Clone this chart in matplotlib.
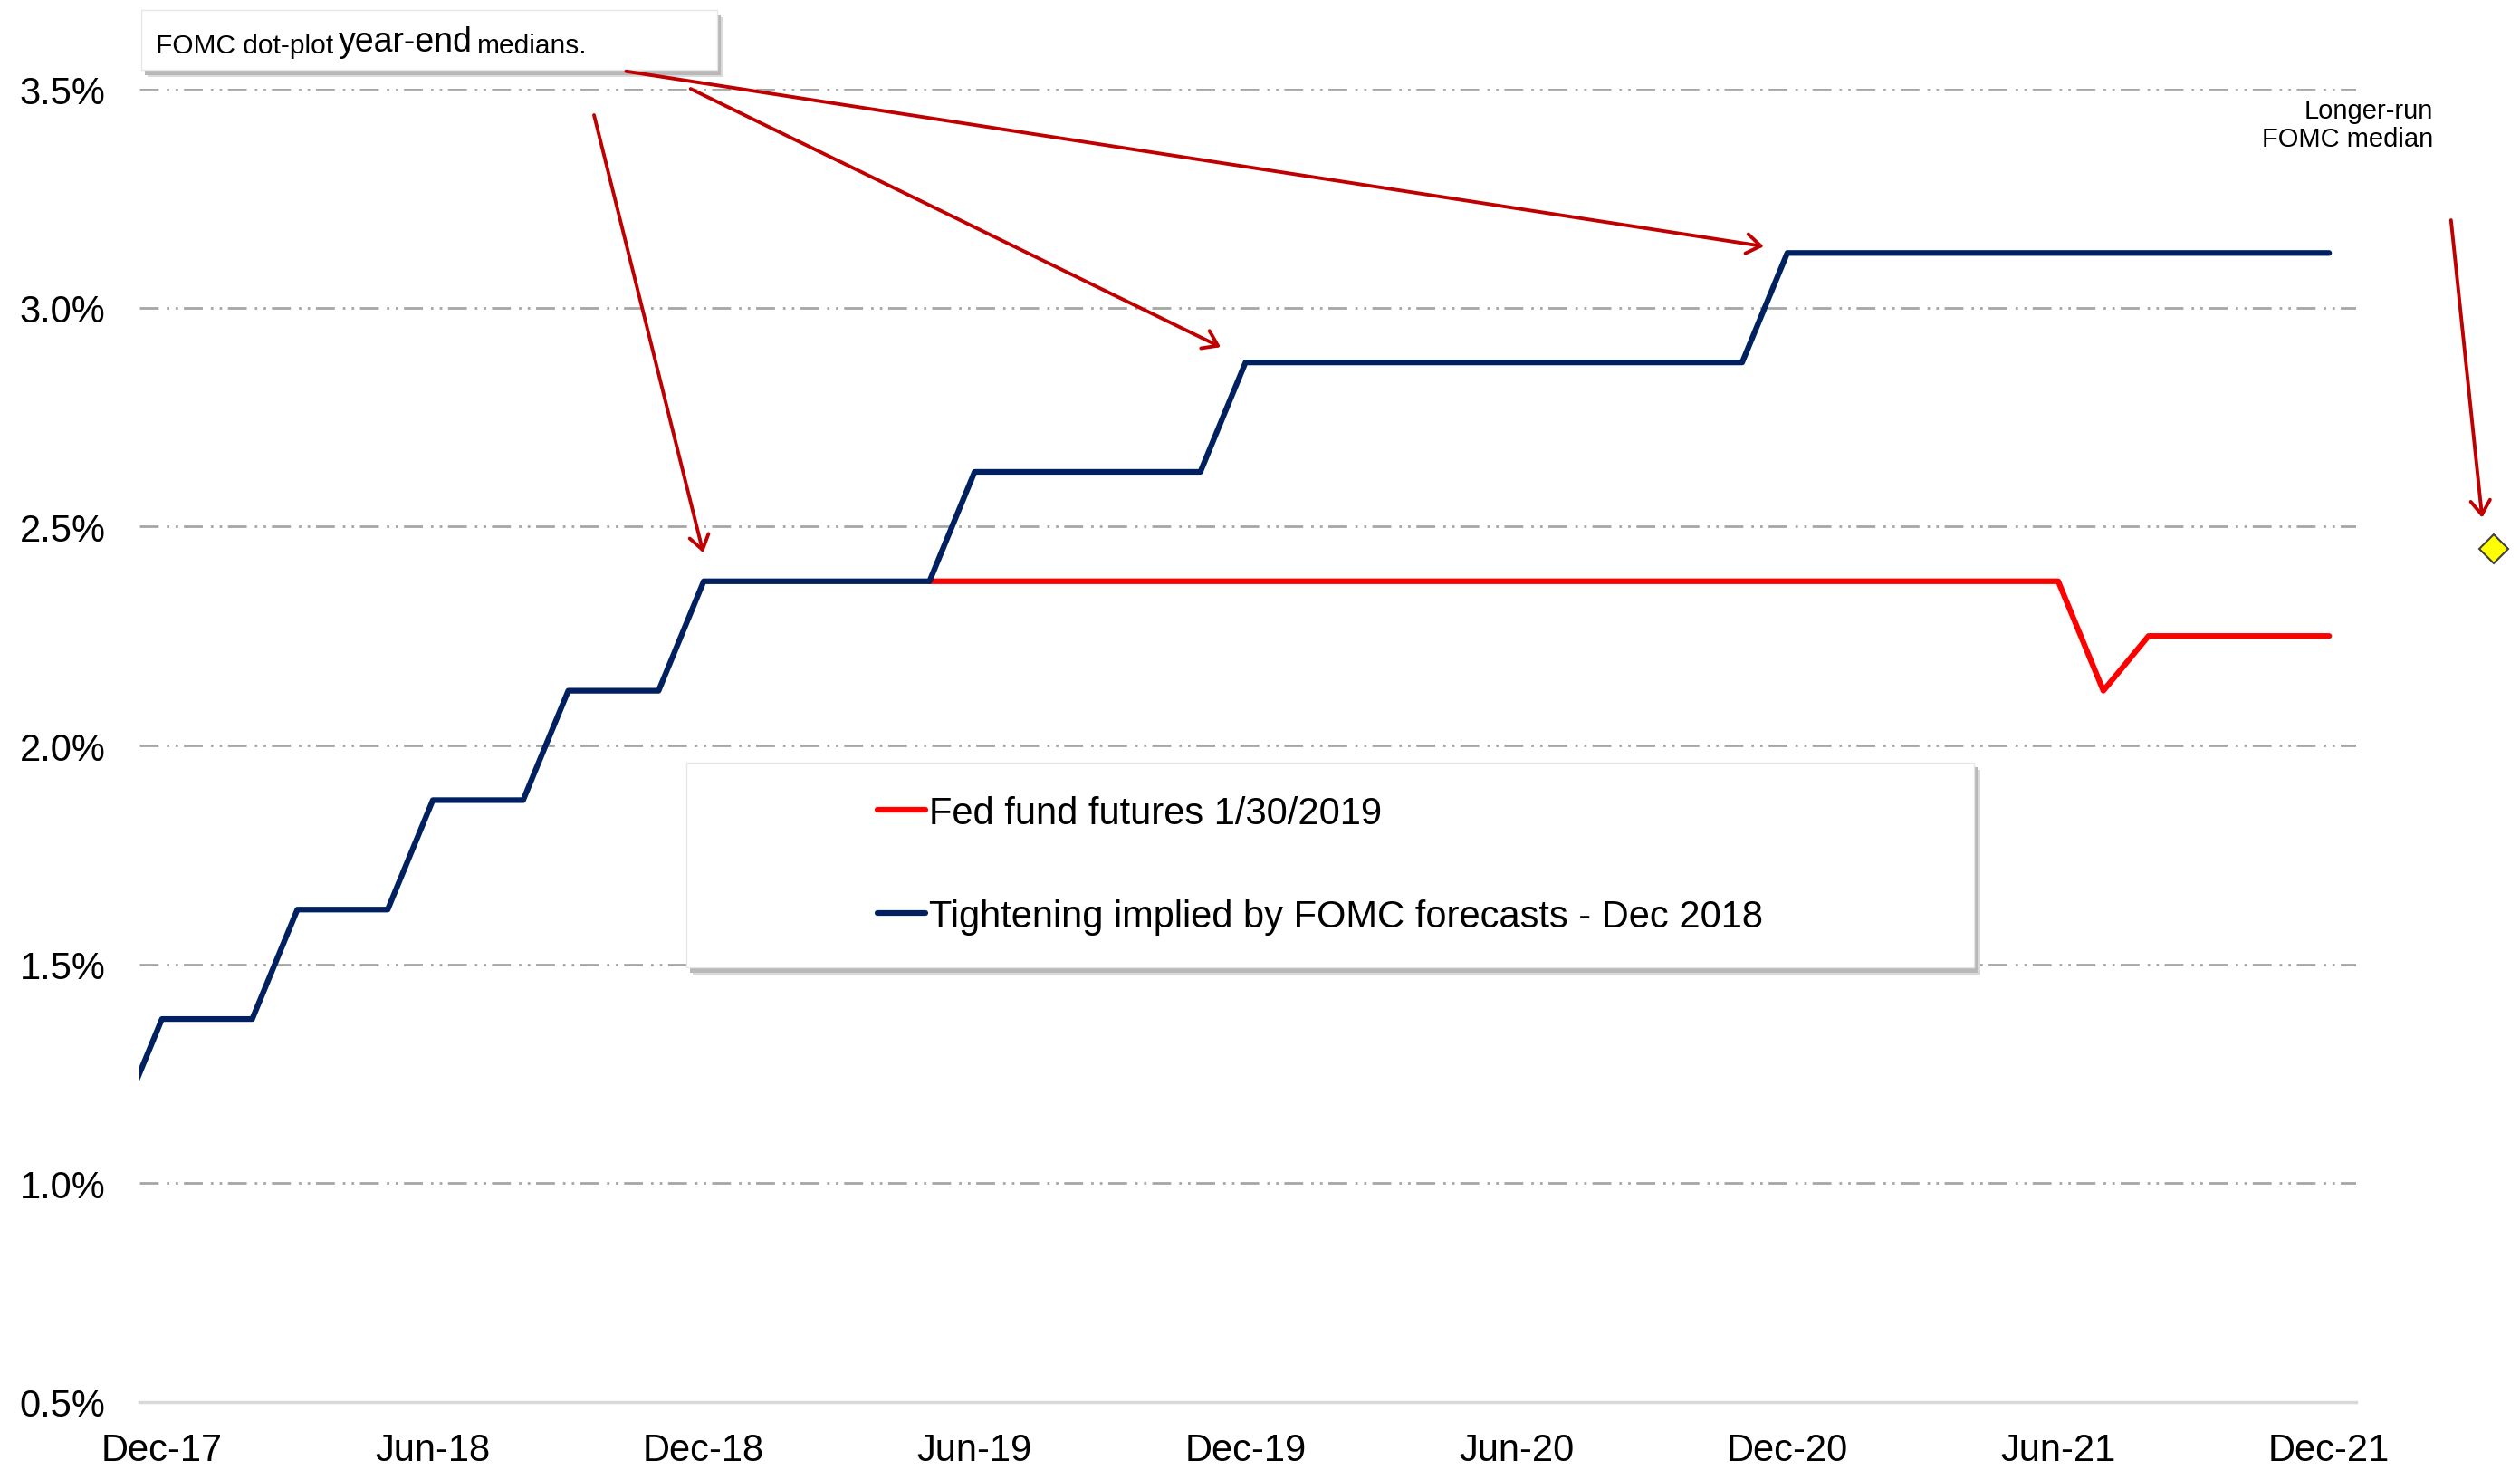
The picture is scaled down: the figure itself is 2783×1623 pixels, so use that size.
import matplotlib.pyplot as plt
from matplotlib.patches import Rectangle
from matplotlib.text import Annotation
from matplotlib.transforms import offset_copy

plt.rcParams['font.family'] = ['Liberation Sans', 'DejaVu Sans']

# x axis is a month index, 0 = Dec-17
tick_months = [0, 6, 12, 18, 24, 30, 36, 42, 48]
tick_labels = ["Dec-17", "Jun-18", "Dec-18", "Jun-19", "Dec-19",
               "Jun-20", "Dec-20", "Jun-21", "Dec-21"]
y_ticks = [0.5, 1.0, 1.5, 2.0, 2.5, 3.0, 3.5]

# Tightening implied by FOMC forecasts - Dec 2018 (Nov-17 .. Dec-21)
tight_months = list(range(-1, 49))
tightening = [
    1.125,
    1.375, 1.375, 1.375,
    1.625, 1.625, 1.625,
    1.875, 1.875, 1.875,
    2.125, 2.125, 2.125,
    2.375, 2.375, 2.375, 2.375, 2.375, 2.375,
    2.625, 2.625, 2.625, 2.625, 2.625, 2.625,
    2.875, 2.875, 2.875, 2.875, 2.875, 2.875,
    2.875, 2.875, 2.875, 2.875, 2.875, 2.875,
    3.125, 3.125, 3.125, 3.125, 3.125, 3.125, 3.125,
    3.125, 3.125, 3.125, 3.125, 3.125, 3.125,
]

# Fed fund futures 1/30/2019 (May-19 .. Dec-21)
fut_months = list(range(17, 49))
futures = [
    2.375, 2.375, 2.375, 2.375, 2.375, 2.375, 2.375, 2.375, 2.375,
    2.375, 2.375, 2.375, 2.375, 2.375, 2.375, 2.375, 2.375, 2.375,
    2.375, 2.375, 2.375, 2.375, 2.375, 2.375, 2.375, 2.375,
    2.125,
    2.25, 2.25, 2.25, 2.25, 2.25,
]

# longer-run FOMC median, drawn to the right of the axis
longer_run_month = 51.65
longer_run_rate = 2.45

# arrows: (start month, start rate) -> (end month, end rate)
arrow_starts = [(9.57, 3.44), (11.71, 3.50), (10.28, 3.54), (50.7, 3.20)]
arrow_ends = [(11.99, 2.44), (23.45, 2.91), (35.48, 3.14), (51.39, 2.52)]

RED = "#FF0000"
NAVY = "#002060"
ARROW = "#C00000"

fig = plt.figure(figsize=(27.83, 16.24), dpi=100)
ax = fig.add_axes([0.0553, 0.0462, 0.8797, 0.8928])
ax.set_zorder(2)  # arrows sit on top of the note box

for y in y_ticks[1:]:
    ax.axhline(y, color="#A6A6A6", linewidth=2,
               linestyle=(0, (7.5, 3.2, 1, 2.5, 1, 2.3)), zorder=1)

red_line, = ax.plot(fut_months, futures, color=RED, linewidth=4.5,
                    solid_capstyle="round", zorder=3,
                    label="Fed fund futures 1/30/2019")
blue_line, = ax.plot(tight_months, tightening, color=NAVY, linewidth=4.5,
                     solid_capstyle="round", zorder=3,
                     label="Tightening implied by FOMC forecasts - Dec 2018")

ax.plot(longer_run_month, longer_run_rate, marker="D", markersize=16,
        markerfacecolor="#FFFF00", markeredgecolor="#404040",
        markeredgewidth=1.5, clip_on=False, zorder=5)

for (x0, y0), (x1, y1) in zip(arrow_starts, arrow_ends):
    ax.annotate("", xy=(x1, y1), xytext=(x0, y0), annotation_clip=False,
                arrowprops=dict(arrowstyle="->, head_length=0.8, head_width=0.55",
                                color=ARROW, lw=2.8, shrinkA=0, shrinkB=0,
                                mutation_scale=14))

ax.set_xlim(-0.5, 48.6)
ax.set_ylim(0.5, 3.5)
ax.set_xticks(tick_months)
ax.set_xticklabels(tick_labels)
ax.set_yticks(y_ticks)
ax.set_yticklabels([f"{v:.1f}%" for v in y_ticks])
ax.tick_params(axis="both", length=0, labelsize=30, colors="#000000")
ax.tick_params(axis="y", pad=27)
ax.tick_params(axis="x", pad=24)
for side in ("left", "right", "top"):
    ax.spines[side].set_visible(False)
ax.spines["bottom"].set_color("#D9D9D9")
ax.spines["bottom"].set_linewidth(2.5)


def boxed(x, y, w, h, base, zorder, target):
    # white box with a grey drop shadow down and to the right
    for dx, dy, col in ((5, -6, "#DADADA"), (3, -4, "#B8B8B8")):
        sh = Rectangle((x, y), w, h, facecolor=col, edgecolor="none",
                       transform=offset_copy(base, fig=fig, x=dx, y=dy,
                                             units="points"),
                       zorder=zorder - 0.2, clip_on=False)
        target(sh)
    box = Rectangle((x, y), w, h, facecolor="white", edgecolor="#E6E6E6",
                    linewidth=1, transform=base, zorder=zorder, clip_on=False)
    target(box)


# legend box
boxed(0.2467, 0.331, 0.581, 0.156, ax.transAxes, 6, ax.add_patch)
leg = ax.legend(handles=[red_line, blue_line], loc="center left",
                bbox_to_anchor=(0.333, 0.409), frameon=False, fontsize=30,
                handlelength=1.27, handletextpad=0.1, labelspacing=1.78,
                borderaxespad=0, borderpad=0)
leg.set_zorder(7)

# note box top-left
boxed(0.056, 0.952, 0.2285, 0.0406, fig.transFigure, 1, fig.add_artist)
t1 = fig.text(0.0618, 0.9639, "FOMC dot-plot", fontsize=21.5, va="baseline",
              zorder=3)
t2 = Annotation("year-end", xy=(1, 0), xycoords=t1, xytext=(4, 0),
                textcoords="offset points", va="bottom", fontsize=27,
                zorder=3)
fig.add_artist(t2)
fig.add_artist(Annotation("medians.", xy=(1, 0), xycoords=t2, xytext=(4, 0),
                          textcoords="offset points", va="bottom",
                          fontsize=21.5, zorder=3))

fig.text(0.9655, 0.9147, "Longer-run\nFOMC median", fontsize=21,
         ha="right", va="center", multialignment="right", linespacing=1.15,
         zorder=3)

fig.savefig("out.png", dpi=100)
